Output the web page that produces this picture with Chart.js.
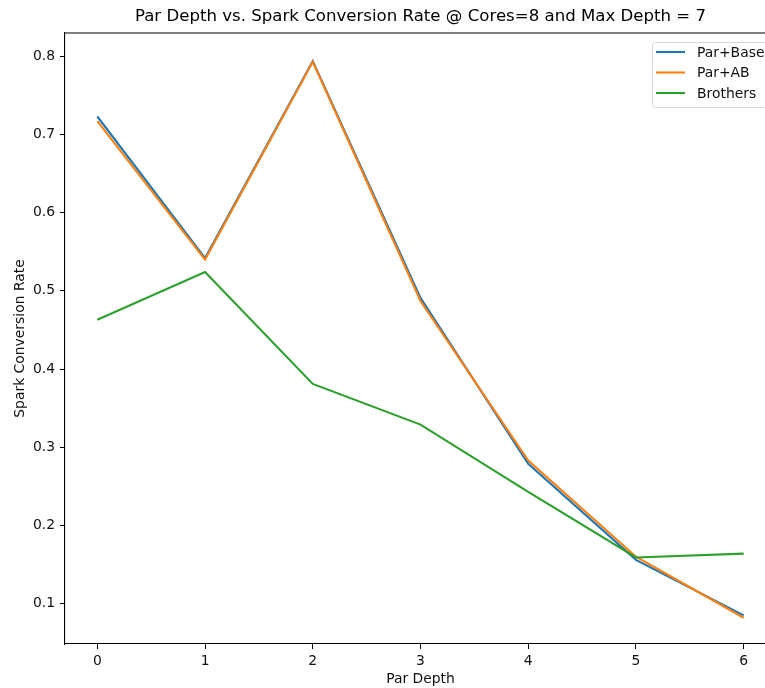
<!DOCTYPE html>
<html>
<head>
<meta charset="utf-8">
<title>Par Depth vs. Spark Conversion Rate</title>
<script src="https://cdn.jsdelivr.net/npm/chart.js@4.4.1/dist/chart.umd.min.js"></script>
<style>
  html, body { margin: 0; padding: 0; overflow: hidden; background: #fff; }
  #wrap { width: 800px; height: 688px; }
</style>
</head>
<body>
<div id="wrap"><canvas id="depthChart" width="800" height="688"></canvas></div>
<script>
// conversion rate per par depth (cores = 8, max depth = 7)
const parDepths = [0, 1, 2, 3, 4, 5, 6];
const parBase = [0.723, 0.542, 0.794, 0.491, 0.279, 0.156, 0.085];
const parAB = [0.717, 0.540, 0.793, 0.487, 0.283, 0.160, 0.082];
const brothers = [0.463, 0.524, 0.381, 0.329, 0.243, 0.159, 0.164];

const xTicks = [0, 1, 2, 3, 4, 5, 6];
const yTicks = [0.1, 0.2, 0.3, 0.4, 0.5, 0.6, 0.7, 0.8];

const chartTitle = 'Par Depth vs. Spark Conversion Rate @ Cores=8 and Max Depth = 7';

function toPoints(values) {
    return parDepths.map((d, i) => ({ x: d, y: values[i] }));
}

Chart.defaults.font.family = "'DejaVu Sans', sans-serif";
Chart.defaults.color = '#111';

// title, top spine and the boxed legend in the upper right corner
const frameAndLegend = {
    id: 'frameAndLegend',
    afterDraw(chart) {
        const ctx = chart.ctx;
        const area = chart.chartArea;
        ctx.save();

        ctx.fillStyle = '#000';
        ctx.font = "16.6px 'DejaVu Sans'";
        ctx.textAlign = 'center';
        ctx.textBaseline = 'middle';
        ctx.fillText(chartTitle, (area.left + area.right) / 2, 17);

        ctx.strokeStyle = '#000';
        ctx.lineWidth = 1.1;
        ctx.beginPath();
        ctx.moveTo(area.left, area.top);
        ctx.lineTo(area.right + 20, area.top);
        ctx.stroke();

        const bx = area.right - 124, by = area.top + 9, bw = 119, bh = 65;
        ctx.beginPath();
        ctx.roundRect(bx + 0.5, by + 0.5, bw, bh, 3);
        ctx.fillStyle = 'rgba(255,255,255,0.8)';
        ctx.fill();
        ctx.strokeStyle = '#d6d6d6';
        ctx.lineWidth = 1;
        ctx.stroke();

        ctx.font = "13.9px 'DejaVu Sans'";
        ctx.textAlign = 'left';
        chart.data.datasets.forEach((ds, i) => {
            const ly = by + 10 + i * 20.5;
            ctx.strokeStyle = ds.borderColor;
            ctx.lineWidth = 2.1;
            ctx.beginPath();
            ctx.moveTo(bx + 4, ly);
            ctx.lineTo(bx + 33, ly);
            ctx.stroke();
            ctx.fillStyle = '#111';
            ctx.fillText(ds.label, bx + 45, ly + 1);
        });
        ctx.restore();
    }
};

const ctx = document.getElementById('depthChart').getContext('2d');
new Chart(ctx, {
    type: 'line',
    data: {
        datasets: [
            { label: 'Par+Base', data: toPoints(parBase), borderColor: '#1f77b4', order: 3 },
            { label: 'Par+AB', data: toPoints(parAB), borderColor: '#ff7f0e', order: 2 },
            { label: 'Brothers', data: toPoints(brothers), borderColor: '#2ca02c', order: 1 }
        ]
    },
    options: {
        responsive: false,
        animation: false,
        events: [],
        layout: { padding: { top: 33, right: 24, left: 0, bottom: 0 } },
        elements: {
            line: { borderWidth: 2.1, tension: 0, fill: false },
            point: { radius: 0 }
        },
        plugins: {
            legend: { display: false },
            title: { display: false },
            tooltip: { enabled: false }
        },
        scales: {
            x: {
                type: 'linear',
                min: -0.3,
                max: 6.3,
                afterBuildTicks: (scale) => { scale.ticks = xTicks.map(v => ({ value: v })); },
                afterFit: (scale) => { scale.height = 44; },
                ticks: {
                    callback: (v) => String(v),
                    font: { size: 13.9 },
                    color: '#111',
                    padding: 4,
                    maxRotation: 0
                },
                grid: { drawOnChartArea: false, drawTicks: true, tickLength: 5, color: '#000', lineWidth: 1 },
                border: { display: true, color: '#000', width: 1.1 },
                title: {
                    display: true,
                    text: 'Par Depth',
                    font: { size: 13.9 },
                    color: '#111',
                    padding: { top: 0, bottom: 0 }
                }
            },
            y: {
                min: 0.0484,
                max: 0.8298,
                afterBuildTicks: (scale) => { scale.ticks = yTicks.map(v => ({ value: v })); },
                afterFit: (scale) => { scale.width = 65; },
                ticks: {
                    callback: (v) => v.toFixed(1),
                    font: { size: 13.9 },
                    color: '#111',
                    padding: 5
                },
                grid: { drawOnChartArea: false, drawTicks: true, tickLength: 5, color: '#000', lineWidth: 1 },
                border: { display: true, color: '#000', width: 1.1 },
                title: {
                    display: true,
                    text: 'Spark Conversion Rate',
                    font: { size: 13.9 },
                    color: '#111',
                    padding: { top: 12, bottom: 0 }
                }
            }
        }
    },
    plugins: [frameAndLegend]
});
</script>
</body>
</html>
